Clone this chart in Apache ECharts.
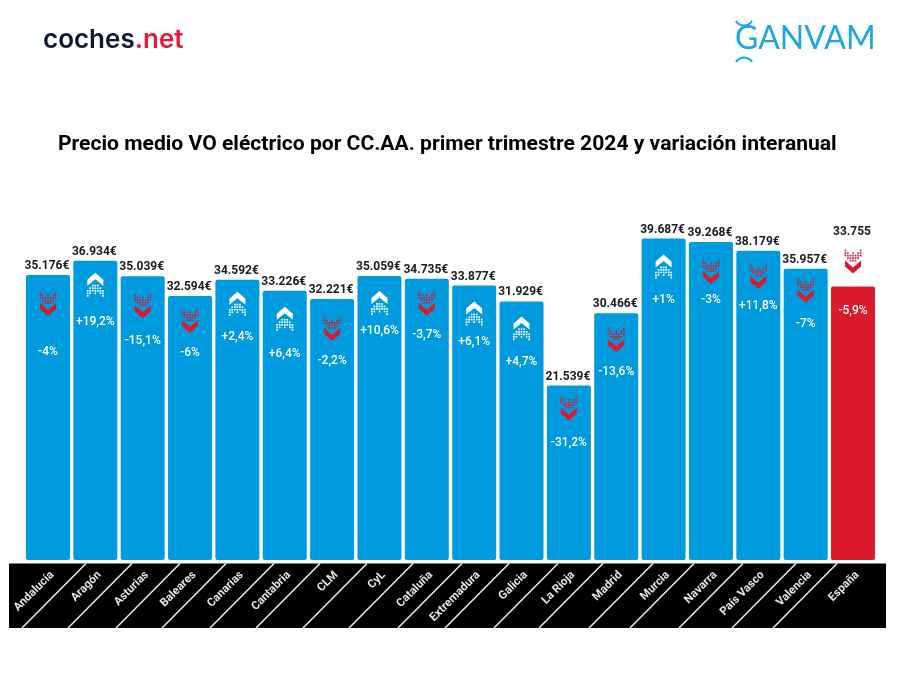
<!DOCTYPE html>
<html><head><meta charset="utf-8">
<style>html,body{margin:0;padding:0;background:#fff}#c{width:900px;height:675px}</style>
<script src="https://cdn.jsdelivr.net/npm/echarts@6/dist/echarts.min.js"></script>
</head><body><div id="c"></div>
<script>
const categories = ['Andalucía','Aragón','Asturias','Baleares','Canarias','Cantabria','CLM','CyL','Cataluña','Extremadura','Galicia','La Rioja','Madrid','Murcia','Navarra','País Vasco','Valencia','España'];
const prices = [35176,36934,35039,32594,34592,33226,32221,35059,34735,33877,31929,21539,30466,39687,39268,38179,35957,33755];
const priceLabels = ['35.176€','36.934€','35.039€','32.594€','34.592€','33.226€','32.221€','35.059€','34.735€','33.877€','31.929€','21.539€','30.466€','39.687€','39.268€','38.179€','35.957€','33.755'];
const changes = ['-4%','+19,2%','-15,1%','-6%','+2,4%','+6,4%','-2,2%','+10,6%','-3,7%','+6,1%','+4,7%','-31,2%','-13,6%','+1%','-3%','+11,8%','-7%','-5,9%'];
const trends = ['down','up','down','down','up','up','down','up','down','up','up','down','down','up','down','down','down','down'];

// layout only (px below each bar's top)
const iconDrop = [17,12,18,13,12,16,18,15,13,16,15,11,15,16,18,14,10,-37];
const changeDrop = [77,61,65,57,57,63,62,55,56,56,61,57,59,61,58,55,55,24];
const dividerTops = [86,132,180,226,274,320,367,413,462,509,558,603,653,694,743,796,837];
const BLUE='#009ADE', RED='#DC1A2E', INK='#1a1a1a';
const FONT='Roboto';

const dotsDown = ['X.....X','XX.X.XX','XXXXXXX','.XXXXX.','..XXX..'];

function iconShapes(cx, top, dir, color){
  const out=[];
  const pitch=2.55, dot=1.7;
  const rows = dir==='down' ? dotsDown : dotsDown.slice().reverse();
  const dotsTop = dir==='down' ? top : top+12;
  rows.forEach((row,r)=>{
    [...row].forEach((ch,c)=>{
      if(ch==='X') out.push({type:'rect',shape:{x:cx+(c-3)*pitch-dot/2,y:dotsTop+r*pitch,width:dot,height:dot},style:{fill:color}});
    });
  });
  const w=8;
  const pts = dir==='down'
    ? [[-w,0],[0,7],[w,0],[w,6],[0,13],[-w,6]].map(p=>[cx+p[0],top+11+p[1]])
    : [[-w,7],[0,0],[w,7],[w,13],[0,6.5],[-w,13]].map(p=>[cx+p[0],top+p[1]]);
  out.push({type:'polygon',shape:{points:pts},style:{fill:color}});
  return out;
}

const chart = echarts.init(document.getElementById('c'),null,{renderer:'canvas'});

const bandGraphics = [
  {type:'rect',z:-10,shape:{x:9,y:563.5,width:877,height:64.5},style:{fill:'#000'},silent:true},
  ...dividerTops.map(x=>({type:'line',z:-9,silent:true,shape:{x1:x,y1:563.5,x2:x-64,y2:628},style:{stroke:'#f0f0f0',lineWidth:1.5}})),
  {type:'text',left:43,top:27,style:{rich:{a:{fontFamily:'Inter',fontWeight:600,fontSize:26,fill:'#0E1A33'},b:{fontFamily:'Inter',fontWeight:600,fontSize:26,fill:'#E5173A'}},text:'{a|coches}{b|.net}'}},
  {type:'text',left:735,top:23,style:{text:'GANVAM',fontFamily:'Lato',fontWeight:400,fontSize:32,fill:'#1CA6E3'}},
  {type:'arc',shape:{cx:744,cy:16,r:9.5,startAngle:0.55,endAngle:2.6},style:{stroke:'#1CA6E3',lineWidth:2,fill:'none'}},
  {type:'arc',shape:{cx:744,cy:67,r:9.5,startAngle:-2.6,endAngle:-0.55},style:{stroke:'#1CA6E3',lineWidth:2,fill:'none'}}
];

chart.setOption({
  animation:false,
  backgroundColor:'#fff',
  title:{text:'Precio medio VO eléctrico por CC.AA. primer trimestre 2024 y variación interanual',left:53,top:129,textStyle:{fontFamily:FONT,fontWeight:'bold',fontSize:21.1,color:'#000'}},
  grid:{left:24.3,width:852.4,top:155,height:405},
  xAxis:{type:'category',data:categories,axisLine:{show:false},axisTick:{show:false},
    axisLabel:{interval:0,rotate:45,margin:9,verticalAlign:'top',fontFamily:FONT,fontWeight:'bold',fontSize:11.5,color:'#e6e6e6'}},
  yAxis:{type:'value',min:0,max:50000,show:false,splitLine:{show:false}},
  graphic:bandGraphics,
  series:[
    {type:'bar',barWidth:44,
      data:prices.map((v,i)=>({value:v,
        itemStyle:{color:categories[i]==='España'?RED:BLUE,borderRadius:2},
        label:{show:true,position:'top',distance:categories[i]==='España'?49:3,offset:[-1,0],formatter:priceLabels[i],
          fontFamily:FONT,fontWeight:'bold',fontSize:12,color:INK}}))},
    {type:'custom',z:5,silent:true,
      data:prices.map((v,i)=>[i,v]),
      encode:{x:0,y:1},
      renderItem:(p,api)=>{
        const i=api.value(0);
        const [cx,top]=api.coord([i,api.value(1)]);
        const color=trends[i]==='up'?'#fff':RED;
        return {type:'group',children:[
          ...iconShapes(cx,top+iconDrop[i],trends[i],color),
          {type:'text',style:{text:changes[i],x:cx,y:top+changeDrop[i],textAlign:'center',textVerticalAlign:'middle',fontFamily:FONT,fontWeight:500,fontSize:12,fill:'#fff'}}
        ]};
      }}
  ]
});
</script></body></html>
